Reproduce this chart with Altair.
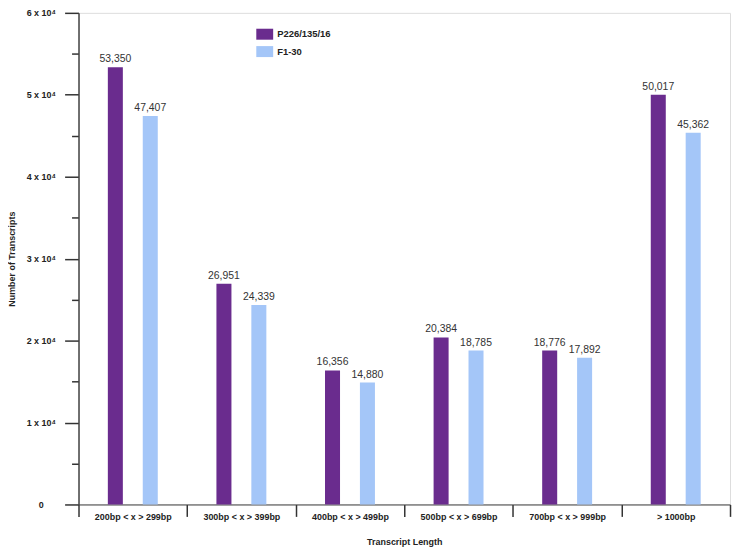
import altair as alt
import pandas as pd

categories = ["200bp < x > 299bp", "300bp < x > 399bp", "400bp < x > 499bp",
              "500bp < x > 699bp", "700bp < x > 999bp", "> 1000bp"]
series_names = ["P226/135/16", "F1-30"]
p226_values = [53350, 26951, 16356, 20384, 18776, 50017]
f130_values = [47407, 24339, 14880, 18785, 17892, 45362]
y_tick_values = [0, 5000, 10000, 15000, 20000, 25000, 30000, 35000, 40000, 45000, 50000, 55000, 60000]
colors = ["#6a2c8e", "#a4c6f8"]

rows = []
for c, a, b in zip(categories, p226_values, f130_values):
    rows.append({"cat": c, "series": series_names[0], "value": a})
    rows.append({"cat": c, "series": series_names[1], "value": b})
df = pd.DataFrame(rows)

FONT = "Liberation Sans"

x = alt.X("cat:N", sort=categories, title="Transcript Length",
          scale=alt.Scale(paddingInner=0, paddingOuter=0),
          axis=alt.Axis(labelAngle=0, tickBand="extent", tickSize=12, labelPadding=-4,
                        labelFont=FONT, labelFontSize=9, labelFontWeight="bold",
                        titleFont=FONT, titleFontSize=9, titleFontWeight="bold",
                        titlePadding=16, domainColor="#444", tickColor="#333",
                        labelColor="#222", titleColor="#222", tickWidth=1.5))
xo = alt.XOffset("series:N", sort=series_names,
                 scale=alt.Scale(paddingInner=0.57, paddingOuter=0.84))
y = alt.Y("value:Q", title="Number of Transcripts",
          scale=alt.Scale(domain=[0, 60000], nice=False),
          axis=alt.Axis(values=y_tick_values,
                        labelExpr="datum.value % 10000 === 0 ? (datum.value === 0 ? '0' : (datum.value/10000) + ' x 10⁴') : ''",
                        tickSize=alt.condition("datum.value % 10000 === 0", alt.value(14), alt.value(7)),
                        labelAlign="center", labelPadding=24, grid=False,
                        labelFont=FONT, labelFontSize=9, labelFontWeight="bold",
                        titleFont=FONT, titleFontSize=9, titleFontWeight="bold",
                        titlePadding=10, domainColor="#444", tickColor="#333",
                        labelColor="#222", titleColor="#222", tickWidth=1.5, domainWidth=1.5))
color = alt.Color("series:N", sort=series_names, title=None,
                  scale=alt.Scale(domain=series_names, range=colors),
                  legend=alt.Legend(orient="none", legendX=179, legendY=13,
                                    symbolType="M-1,-0.65H1V0.65H-1Z", symbolSize=289,
                                    symbolStrokeWidth=0, symbolOpacity=1,
                                    labelFont=FONT, labelFontSize=9.5, labelFontWeight="bold",
                                    labelColor="#222", rowPadding=2.5, padding=0, labelOffset=4))

bars = alt.Chart(df).mark_bar(opacity=1).encode(x=x, xOffset=xo, y=y, color=color)
text = alt.Chart(df).mark_text(dy=-8, font=FONT, fontSize=10.5, color="#333").encode(
    x=x, xOffset=xo, y=y,
    text=alt.Text("value:Q", format=",")
)

chart = (bars + text).properties(
    width=656, height=495,
    autosize=alt.AutoSizeParams(type="none"),
    padding={"top": 3, "left": 71, "right": 3, "bottom": 50},
).configure_view(
    stroke="#444", strokeWidth=1.5
).configure(background="white")

chart.save("out.html", embed_options={"renderer": "svg", "actions": False})
